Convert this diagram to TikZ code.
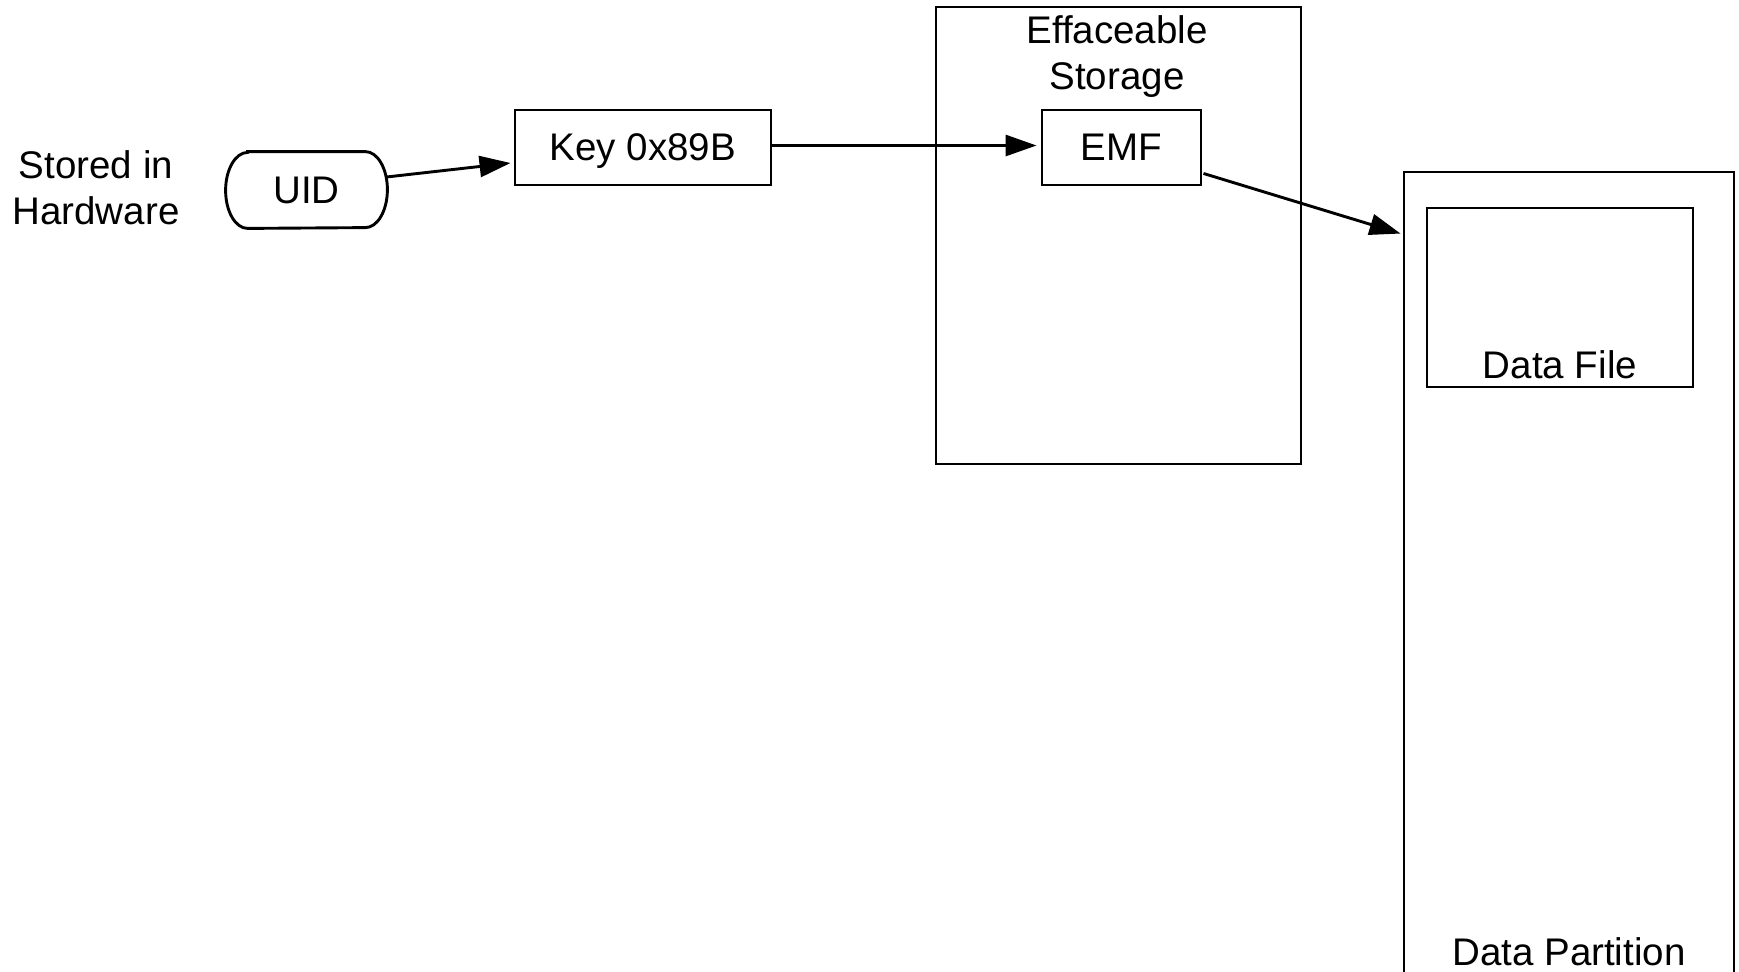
\documentclass[tikz,border=0pt]{standalone}
\usepackage{fontspec}
\setmainfont{Liberation Sans}
\usetikzlibrary{arrows.meta,calc}
\begin{document}
\begin{tikzpicture}[x=0.5pt,y=-0.5pt,
  box/.style={draw, line width=1.45pt, rectangle, inner sep=0pt},
  txt/.style={font=\fontsize{19.25}{23}\selectfont, align=center, inner sep=0pt},
  link/.style={line width=1.45pt, -{Triangle[length=15.5pt,width=10.5pt]}}]
\useasboundingbox (0,0) rectangle (1739,971);
\clip (0,0) rectangle (1739,971);

% containers
\node[box, minimum width=182.5pt, minimum height=228.5pt] (eff) at (1118.5,235.5) {};
\node[txt, anchor=north] (efflbl) at (1117,15) {Effaceable\\Storage};
\node[box, minimum width=165pt, minimum height=414pt] (dpart) at (1569,586) {};
\node[txt, anchor=base] (dplbl) at (1569,965) {Data Partition};

% key chain
\node[txt, anchor=north] (hw) at (96,150) {Stored in\\Hardware};
\node[txt, minimum width=80.5pt, minimum height=38pt] (uid) at (306.5,190) {UID};
\draw[line width=1.45pt]
  ($(uid.north west)+(22,0)$) -- ($(uid.north east)+(-22,0)$)
  arc[start angle=-90, end angle=90, x radius=22, y radius=38]
  -- ($(uid.south west)+(22,0)$)
  arc[start angle=90, end angle=270, x radius=22, y radius=38] -- cycle;
\node[box, txt, text depth=0pt, minimum width=128pt, minimum height=37.5pt] (key) at (643,147.5) {Key 0x89B};
\node[box, txt, minimum width=79.5pt, minimum height=37.5pt] (emf) at (1121.5,147.5) {EMF};
\node[box, minimum width=133pt, minimum height=89.5pt] (dfile) at (1560,297.5) {};
\node[txt, anchor=base] (dflbl) at ($(dfile.south)+(0,-10)$) {Data File};

% connectors
\draw[link] ($(uid.east)+(-1,-13)$) -- ($(key.west)+(-3,15.5)$);
\draw[link] ($(key.east)+(0,-2)$) -- ($(emf.west)+(-4,-2)$);
\draw[link] ($(emf.south east)+(1,-13)$) -- ($(dpart.north west)+(-2,63)$);
\end{tikzpicture}
\end{document}
